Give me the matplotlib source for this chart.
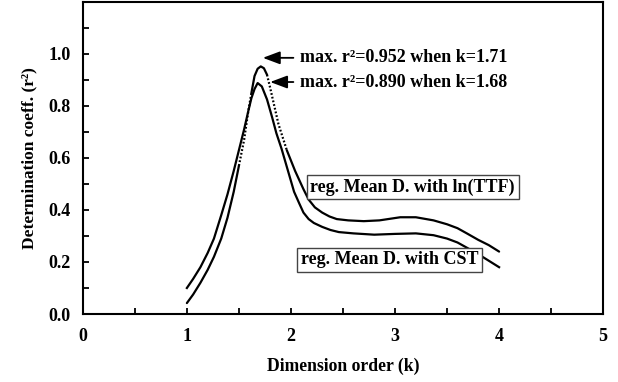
import numpy as np
import matplotlib
matplotlib.use("Agg")
import matplotlib.pyplot as plt
from matplotlib.ticker import MultipleLocator

plt.rcParams['font.family'] = ['Liberation Serif', 'DejaVu Serif']
plt.rcParams['font.weight'] = 'bold'

# Series: regression of Mean D. with ln(TTF)  (peak 0.952 at k=1.71)
k_ttf = [1.00, 1.06, 1.13, 1.20, 1.26, 1.33, 1.39, 1.45, 1.50, 1.55, 1.59, 1.62,
         1.65, 1.68, 1.71, 1.74, 1.77, 1.80, 1.84, 1.88, 1.92, 1.96, 2.00, 2.04,
         2.08, 2.12, 2.17, 2.23, 2.30, 2.37, 2.44, 2.55, 2.70, 2.85, 3.05, 3.20,
         3.37, 3.50, 3.60, 3.69, 3.80, 3.90, 4.00]
r2_ttf = [0.042, 0.075, 0.12, 0.17, 0.22, 0.29, 0.37, 0.47, 0.57, 0.67, 0.78, 0.85,
          0.915, 0.943, 0.952, 0.945, 0.92, 0.87, 0.80, 0.73, 0.68, 0.63, 0.59, 0.55,
          0.515, 0.48, 0.44, 0.41, 0.39, 0.375, 0.365, 0.36, 0.357, 0.36, 0.372, 0.372,
          0.36, 0.345, 0.33, 0.31, 0.285, 0.265, 0.24]

# Series: regression of Mean D. with CST  (peak 0.890 at k=1.68)
k_cst = [1.00, 1.06, 1.13, 1.20, 1.26, 1.33, 1.39, 1.45, 1.50, 1.55, 1.59, 1.62,
         1.65, 1.68, 1.72, 1.77, 1.82, 1.86, 1.91, 1.95, 1.99, 2.03, 2.08, 2.12,
         2.17, 2.22, 2.30, 2.38, 2.46, 2.60, 2.80, 3.00, 3.20, 3.37, 3.50, 3.60,
         3.69, 3.80, 3.90, 4.00]
r2_cst = [0.10, 0.135, 0.18, 0.235, 0.29, 0.38, 0.46, 0.55, 0.63, 0.71, 0.78, 0.83,
          0.865, 0.888, 0.875, 0.825, 0.755, 0.695, 0.635, 0.58, 0.525, 0.47, 0.425, 0.39,
          0.365, 0.35, 0.335, 0.323, 0.315, 0.31, 0.305, 0.308, 0.31, 0.303, 0.29, 0.275,
          0.255, 0.23, 0.205, 0.18]

dotted_ranges = [(1.50, 1.62), (1.77, 1.96)]

labels_box = ["reg. Mean D. with ln(TTF)", "reg. Mean D. with CST"]
max_texts = ["max. r\u00b2=0.952 when k=1.71", "max. r\u00b2=0.890 when k=1.68"]

fig = plt.figure(figsize=(6.18, 3.82), dpi=100)
ax = fig.add_axes([0.134, 0.178, 0.842, 0.817])

kt = np.array(k_ttf)
rt = np.array(r2_ttf)
in_dot = np.zeros(len(kt), bool)
in_dot_open = np.zeros(len(kt), bool)
for lo, hi in dotted_ranges:
    in_dot |= (kt >= lo) & (kt <= hi)
    in_dot_open |= (kt > lo) & (kt < hi)

ax.plot(kt, np.ma.masked_where(in_dot_open, rt), color='black', lw=1.6,
        solid_capstyle='round', solid_joinstyle='round')
ax.plot(kt, np.ma.masked_where(~in_dot, rt), color='black', lw=1.6, linestyle=(0, (0.8, 0.9)))
ax.plot(k_cst, r2_cst, color='black', lw=1.6, solid_joinstyle='round')

ax.set_xlim(0, 5)
ax.set_ylim(0, 1.2)
ax.xaxis.set_major_locator(MultipleLocator(1))
ax.xaxis.set_minor_locator(MultipleLocator(0.5))
ax.yaxis.set_minor_locator(MultipleLocator(0.1))
ax.set_yticks([0.0, 0.2, 0.4, 0.6, 0.8, 1.0])
ax.set_yticklabels(['0.0', '0.2', '0.4', '0.6', '0.8', '1.0'])
ax.tick_params(axis='both', which='both', direction='in', length=4, width=1.3,
               top=False, right=False)
ax.tick_params(axis='y', which='major', pad=9, labelsize=13)
ax.tick_params(axis='x', which='major', pad=10, labelsize=13)
for lab in ax.get_xticklabels() + ax.get_yticklabels():
    lab.set_fontweight('bold')
for s in ax.spines.values():
    s.set_linewidth(1.5)

ax.set_xlabel("Dimension order (k)", fontsize=12.7, fontweight='bold', labelpad=9)
ax.set_ylabel("Determination coeff. (r\u00b2)", fontsize=12.5, fontweight='bold', labelpad=8)

ax.text(3.17, 0.488, labels_box[0], ha='center', va='center', fontsize=13, fontweight='bold',
        bbox=dict(boxstyle='square,pad=0.2', fc='white', ec='#444444', lw=1.0))
ax.text(2.95, 0.208, labels_box[1], ha='center', va='center', fontsize=13, fontweight='bold',
        bbox=dict(boxstyle='square,pad=0.2', fc='white', ec='#444444', lw=1.0))

ax.annotate(max_texts[0], xy=(1.73, 0.985), xytext=(2.09, 0.985), ha='left', va='center',
            fontsize=13, fontweight='bold',
            arrowprops=dict(arrowstyle='-|>,head_length=0.8,head_width=0.3', color='black', lw=1.3,
                            shrinkA=3, shrinkB=0))
ax.annotate(max_texts[1], xy=(1.80, 0.892), xytext=(2.09, 0.892), ha='left', va='center',
            fontsize=13, fontweight='bold',
            arrowprops=dict(arrowstyle='-|>,head_length=0.8,head_width=0.3', color='black', lw=1.3,
                            shrinkA=3, shrinkB=0))

fig.savefig("out.png", dpi=100)
